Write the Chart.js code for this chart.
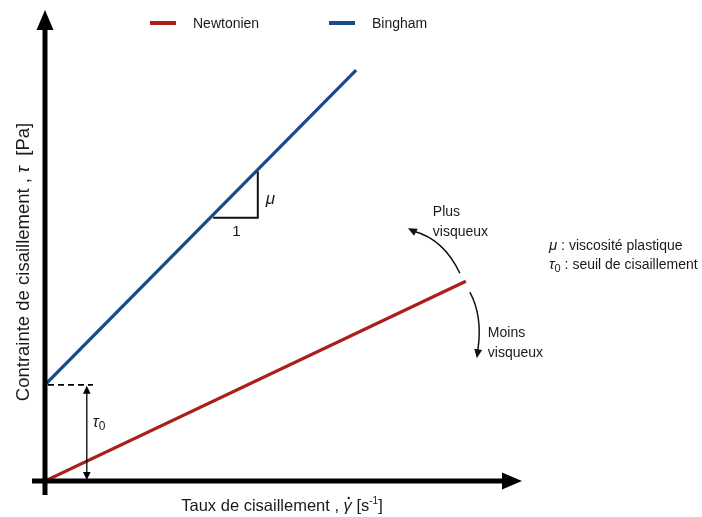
<!DOCTYPE html>
<html>
<head>
<meta charset="utf-8">
<script src="https://cdn.jsdelivr.net/npm/chart.js@4/dist/chart.umd.min.js"></script>
<style>
  html, body { margin: 0; padding: 0; background: #fff; }
  #wrap { width: 702px; height: 517px; }
</style>
</head>
<body>
<div id="wrap"><canvas id="c" width="702" height="517"></canvas></div>
<script>
// Rheological flow curves: shear stress vs shear rate (schematic units)
const seriesNames = ['Newtonien', 'Bingham'];
const newtonienX = [0, 88.6];
const newtonienY = [0, 42.6];
const binghamX = [0, 65.5];
const binghamY = [20.5, 87.6];
const seriesColors = ['#AB1F1A', '#174B8A'];

// slope triangle drawn under the Bingham line (x range in data units)
const slopeRunX = [35.4, 44.8];

const FONT = '"Liberation Sans", Arial, sans-serif';
const INK = '#1a1a1a';

function toPoints(xs, ys) { return xs.map((x, i) => ({ x: x, y: ys[i] })); }

function arrowHead(ctx, x, y, angle, len, half) {
  ctx.save();
  ctx.translate(x, y);
  ctx.rotate(angle);
  ctx.beginPath();
  ctx.moveTo(0, 0);
  ctx.lineTo(-len, -half);
  ctx.lineTo(-len, half);
  ctx.closePath();
  ctx.fill();
  ctx.restore();
}

// text runs [{t, font, dy}] laid out left to right
function runsWidth(ctx, runs) {
  let w = 0;
  runs.forEach(r => { ctx.font = r.font; w += ctx.measureText(r.t).width; });
  return w;
}
function drawRuns(ctx, runs, x, y) {
  let cx = x;
  runs.forEach(r => {
    ctx.font = r.font;
    ctx.fillText(r.t, cx, y + (r.dy || 0));
    const w = ctx.measureText(r.t).width;
    if (r.dot) {
      ctx.beginPath();
      ctx.arc(cx + w * 0.62, y - 13, 1.2, 0, Math.PI * 2);
      ctx.fill();
    }
    cx += w;
  });
  return cx;
}

const decorations = {
  id: 'decorations',
  afterDatasetsDraw(chart) {
    const ctx = chart.ctx;
    const xs = chart.scales.x, ys = chart.scales.y;
    const ox = xs.getPixelForValue(0), oy = ys.getPixelForValue(0);
    ctx.save();
    ctx.fillStyle = '#000';
    ctx.strokeStyle = '#000';

    // axes
    ctx.lineWidth = 5;
    ctx.beginPath();
    ctx.moveTo(ox, oy + 14);
    ctx.lineTo(ox, 26);
    ctx.moveTo(ox - 13, oy);
    ctx.lineTo(506, oy);
    ctx.stroke();
    arrowHead(ctx, ox, 10, -Math.PI / 2, 20, 8.5);
    arrowHead(ctx, 522, oy, 0, 20, 8.5);

    // yield stress marker
    const tau0 = binghamY[0];
    const ty = ys.getPixelForValue(tau0);
    ctx.lineWidth = 1.6;
    ctx.setLineDash([6, 4]);
    ctx.beginPath();
    ctx.moveTo(ox + 3, ty);
    ctx.lineTo(ox + 48, ty);
    ctx.stroke();
    ctx.setLineDash([]);
    const ax = xs.getPixelForValue(8.8);
    ctx.lineWidth = 1.3;
    ctx.beginPath();
    ctx.moveTo(ax, ty + 6);
    ctx.lineTo(ax, oy - 6);
    ctx.stroke();
    arrowHead(ctx, ax, ty + 1, -Math.PI / 2, 8, 3.8);
    arrowHead(ctx, ax, oy - 1, Math.PI / 2, 8, 3.8);

    ctx.fillStyle = INK;
    ctx.textBaseline = 'alphabetic';
    ctx.textAlign = 'left';
    drawRuns(ctx, [
      { t: 'τ', font: 'italic 16px ' + FONT },
      { t: '0', font: '12px ' + FONT, dy: 3 }
    ], ax + 6, ys.getPixelForValue(11.5));

    // slope triangle under Bingham line
    const slope = (binghamY[1] - binghamY[0]) / (binghamX[1] - binghamX[0]);
    const yAt = x => binghamY[0] + slope * x;
    const x1 = xs.getPixelForValue(slopeRunX[0]);
    const x2 = xs.getPixelForValue(slopeRunX[1]);
    const yb = ys.getPixelForValue(yAt(slopeRunX[0])) + 3;
    const yt = ys.getPixelForValue(yAt(slopeRunX[1])) + 2;
    ctx.strokeStyle = '#111';
    ctx.lineWidth = 2;
    ctx.beginPath();
    ctx.moveTo(x1, yb);
    ctx.lineTo(x2, yb);
    ctx.lineTo(x2, yt);
    ctx.stroke();
    ctx.font = '15px ' + FONT;
    ctx.textAlign = 'center';
    ctx.fillText('1', (x1 + x2) / 2 + 1, yb + 18);
    ctx.font = 'italic 17px ' + FONT;
    ctx.textAlign = 'left';
    ctx.fillText('μ', x2 + 8, (yb + yt) / 2 + 9);

    // viscosity direction arrows at the end of the Newtonian line
    const ex = xs.getPixelForValue(newtonienX[1]);
    const ey = ys.getPixelForValue(newtonienY[1]);
    ctx.strokeStyle = '#111';
    ctx.fillStyle = '#111';
    ctx.lineWidth = 1.5;
    ctx.beginPath();
    ctx.moveTo(ex - 6, ey - 8);
    ctx.quadraticCurveTo(ex - 22, ey - 42, ex - 52, ey - 50);
    ctx.stroke();
    arrowHead(ctx, ex - 58, ey - 53, Math.atan2(-5, -10), 9, 4);
    ctx.beginPath();
    ctx.moveTo(ex + 4, ey + 11);
    ctx.quadraticCurveTo(ex + 17, ey + 35, ex + 12, ey + 69);
    ctx.stroke();
    arrowHead(ctx, ex + 11, ey + 77, Math.atan2(10, -1.5), 9, 4);

    ctx.fillStyle = INK;
    ctx.font = '14px ' + FONT;
    ctx.textAlign = 'left';
    ctx.fillText('Plus', ex - 33, ey - 65);
    ctx.fillText('visqueux', ex - 33, ey - 45);
    ctx.fillText('Moins', ex + 22, ey + 56);
    ctx.fillText('visqueux', ex + 22, ey + 76);

    // parameter key
    drawRuns(ctx, [
      { t: 'μ', font: 'italic 15px ' + FONT },
      { t: ' : viscosité plastique', font: '14px ' + FONT }
    ], 549, 250);
    drawRuns(ctx, [
      { t: 'τ', font: 'italic 15px ' + FONT },
      { t: '0', font: '11px ' + FONT, dy: 3 },
      { t: ' : seuil de cisaillement', font: '14px ' + FONT }
    ], 549, 269);

    // legend
    ctx.lineWidth = 4;
    [[150, 193], [329, 372]].forEach((p, i) => {
      ctx.strokeStyle = seriesColors[i];
      ctx.beginPath();
      ctx.moveTo(p[0], 23);
      ctx.lineTo(p[0] + 26, 23);
      ctx.stroke();
      ctx.fillStyle = INK;
      ctx.font = '14px ' + FONT;
      ctx.fillText(seriesNames[i], p[1], 28);
    });

    // axis titles
    ctx.fillStyle = INK;
    const xRuns = [
      { t: 'Taux de cisaillement , ', font: '16.5px ' + FONT },
      { t: 'γ', font: 'italic 16.5px ' + FONT, dot: true },
      { t: ' [s', font: '16.5px ' + FONT },
      { t: '-1', font: '10px ' + FONT, dy: -7 },
      { t: ']', font: '16.5px ' + FONT }
    ];
    const xw = runsWidth(ctx, xRuns);
    drawRuns(ctx, xRuns, 282 - xw / 2, 511);

    const yRuns = [
      { t: 'Contrainte de cisaillement , ', font: '18.5px ' + FONT },
      { t: 'τ', font: 'italic 18.5px ' + FONT },
      { t: '  [Pa]', font: '18.5px ' + FONT }
    ];
    const yw = runsWidth(ctx, yRuns);
    ctx.save();
    ctx.translate(29, 262);
    ctx.rotate(-Math.PI / 2);
    drawRuns(ctx, yRuns, -yw / 2, 0);
    ctx.restore();

    ctx.restore();
  }
};

new Chart(document.getElementById('c'), {
  type: 'scatter',
  data: {
    datasets: [
      {
        label: seriesNames[0],
        data: toPoints(newtonienX, newtonienY),
        showLine: true,
        borderColor: seriesColors[0],
        backgroundColor: seriesColors[0],
        borderWidth: 3.2,
        pointRadius: 0
      },
      {
        label: seriesNames[1],
        data: toPoints(binghamX, binghamY),
        showLine: true,
        borderColor: seriesColors[1],
        backgroundColor: seriesColors[1],
        borderWidth: 3.2,
        pointRadius: 0
      }
    ]
  },
  options: {
    responsive: false,
    animation: false,
    layout: { padding: { left: 45, top: 12, right: 182, bottom: 36 } },
    plugins: { legend: { display: false }, tooltip: { enabled: false } },
    scales: {
      x: { type: 'linear', min: 0, max: 100, display: false },
      y: { type: 'linear', min: 0, max: 100, display: false }
    }
  },
  plugins: [decorations]
});
</script>
</body>
</html>
